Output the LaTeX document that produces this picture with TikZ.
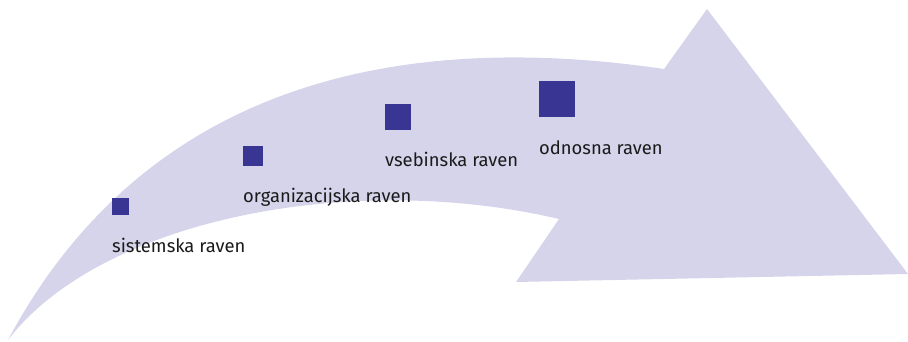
\documentclass[tikz,border=0pt]{standalone}
\usepackage{fontspec}
\setmainfont{Fira Sans}
\definecolor{arrowfill}{HTML}{D6D4EA}
\definecolor{sq}{HTML}{383692}
\definecolor{txt}{HTML}{1A1A1A}
\begin{document}
\begin{tikzpicture}[x=1pt,y=-1pt,
  sqbox/.style={fill=sq, draw=none, inner sep=0pt, anchor=north west},
  lbl/.style={text=txt, font=\fontsize{18.4}{22}\selectfont, inner sep=0pt, anchor=base west}]
\useasboundingbox (0,0) rectangle (908,342);
\fill[arrowfill] (8,340) .. controls (120,130) and (330,20) .. (664,69)
  -- (707,9) -- (908,274) -- (516,282) -- (559,219)
  .. controls (350,170) and (100,220) .. (8,340) -- cycle;
\node[sqbox, minimum size=17pt] (s1) at (112,198) {};
\node[sqbox, minimum size=20pt] (s2) at (243,146) {};
\node[sqbox, minimum size=26pt] (s3) at (385,104) {};
\node[sqbox, minimum size=36pt] (s4) at (539,81) {};
\node[lbl] (t1) at (112,252) {sistemska raven};
\node[lbl] (t2) at (243,202) {organizacijska raven};
\node[lbl] (t3) at (385,167) {vsebinska raven};
\node[lbl] (t4) at (539,155) {odnosna raven};
\end{tikzpicture}
\end{document}
